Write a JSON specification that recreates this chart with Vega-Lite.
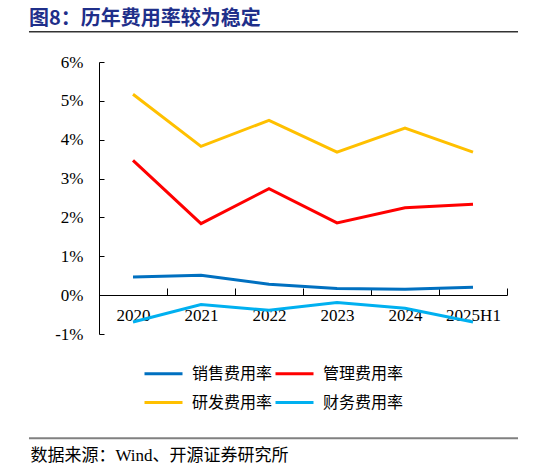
{
  "$schema": "https://vega.github.io/schema/vega-lite/v6.json",
  "width": 408,
  "height": 272,
  "autosize": "none",
  "padding": {"left": 99, "top": 62, "right": 39, "bottom": 133},
  "background": "white",
  "title": {
    "text": "图8：历年费用率较为稳定",
    "anchor": "start",
    "dx": 1,
    "font": "Noto Sans CJK SC",
    "fontSize": 20,
    "fontWeight": "bold",
    "color": "#1F2F8A",
    "offset": 2
  },
  "config": {
    "view": {"stroke": null},
    "font": "Liberation Serif",
    "axis": {
      "ticks": true,
      "tickColor": "black",
      "tickWidth": 1,
      "domainColor": "black",
      "labelOverlap": false,
      "labelColor": "black",
      "labelFont": "Liberation Serif",
      "labelFontSize": 17,
      "grid": false
    },
    "axisY": {"labelFont": "Liberation Serif", "labelFontSize": 17, "tickSize": 5}
  },
  "resolve": {"scale": {"x": "independent", "y": "independent"}},
  "layer": [
    {
      "data": {
        "values": [
          {"period": "2020", "type": "销售费用率", "value": 0.47},
          {"period": "2021", "type": "销售费用率", "value": 0.51},
          {"period": "2022", "type": "销售费用率", "value": 0.28},
          {"period": "2023", "type": "销售费用率", "value": 0.17},
          {"period": "2024", "type": "销售费用率", "value": 0.15},
          {"period": "2025H1", "type": "销售费用率", "value": 0.20},
          {"period": "2020", "type": "管理费用率", "value": 3.47},
          {"period": "2021", "type": "管理费用率", "value": 1.84},
          {"period": "2022", "type": "管理费用率", "value": 2.74},
          {"period": "2023", "type": "管理费用率", "value": 1.86},
          {"period": "2024", "type": "管理费用率", "value": 2.25},
          {"period": "2025H1", "type": "管理费用率", "value": 2.34},
          {"period": "2020", "type": "研发费用率", "value": 5.17},
          {"period": "2021", "type": "研发费用率", "value": 3.83},
          {"period": "2022", "type": "研发费用率", "value": 4.50},
          {"period": "2023", "type": "研发费用率", "value": 3.68},
          {"period": "2024", "type": "研发费用率", "value": 4.30},
          {"period": "2025H1", "type": "研发费用率", "value": 3.68},
          {"period": "2020", "type": "财务费用率", "value": -0.69},
          {"period": "2021", "type": "财务费用率", "value": -0.24},
          {"period": "2022", "type": "财务费用率", "value": -0.39},
          {"period": "2023", "type": "财务费用率", "value": -0.19},
          {"period": "2024", "type": "财务费用率", "value": -0.34},
          {"period": "2025H1", "type": "财务费用率", "value": -0.69}
        ]
      },
      "mark": {"type": "line", "strokeWidth": 3},
      "encoding": {
        "x": {
          "field": "period",
          "type": "ordinal",
          "sort": null,
          "scale": {"type": "band", "paddingInner": 0, "paddingOuter": 0},
          "axis": {
            "orient": "top",
            "offset": -233,
            "title": "数据来源：Wind、开源证券研究所",
            "titleX": -69,
            "titleY": 160,
            "titleAlign": "left",
            "titleBaseline": "middle",
            "titleFont": "Liberation Serif, Noto Sans CJK SC",
            "titleFontSize": 17,
            "titleFontWeight": "normal",
            "titleColor": "black",
            "tickBand": "extent",
            "tickSize": 7,
            "labelAngle": 0,
            "labelBaseline": "top",
            "labelFont": "Liberation Serif",
            "labelFontSize": 17,
            "labelPadding": -19
          }
        },
        "y": {
          "field": "value",
          "type": "quantitative",
          "scale": {"domain": [-1, 6], "nice": false},
          "axis": {
            "orient": "right",
            "offset": -408,
            "title": null,
            "values": [-1, 0, 1, 2, 3, 4, 5, 6],
            "labelExpr": "datum.value + '%'",
            "labelAlign": "right",
            "tickSize": 5,
            "labelPadding": -21,
            "labelFont": "Liberation Serif",
            "labelFontSize": 17
          }
        },
        "color": {
          "field": "type",
          "type": "nominal",
          "scale": {
            "domain": ["销售费用率", "管理费用率", "研发费用率", "财务费用率"],
            "range": ["#0070C0", "#FF0000", "#FFC000", "#00B0F0"]
          },
          "legend": {
            "orient": "none",
            "legendX": 44,
            "legendY": 291,
            "direction": "horizontal",
            "columns": 2,
            "title": null,
            "symbolType": "stroke",
            "symbolSize": 1444,
            "symbolStrokeWidth": 3,
            "labelFont": "Noto Sans CJK SC",
            "labelFontSize": 16,
            "labelColor": "black",
            "labelOffset": 8,
            "columnPadding": -4,
            "rowPadding": -7,
            "padding": 0,
            "labelLimit": 200
          }
        }
      }
    },
    {
      "data": {"values": [{}]},
      "mark": {"type": "rule", "color": "#333333", "strokeWidth": 1.5},
      "encoding": {
        "x": {"datum": -0.1716, "type": "quantitative", "scale": {"domain": [0, 1], "nice": false, "zero": false}, "axis": null},
        "x2": {"datum": 1.027},
        "y": {"datum": 6.78, "type": "quantitative", "scale": {"domain": [-1, 6], "nice": false, "zero": false}, "axis": null}
      }
    },
    {
      "data": {"values": [{}]},
      "mark": {"type": "rule", "color": "#808080", "strokeWidth": 2},
      "encoding": {
        "x": {"datum": -0.1716, "type": "quantitative", "scale": {"domain": [0, 1], "nice": false, "zero": false}, "axis": null},
        "x2": {"datum": 1.027},
        "y": {"datum": -3.68, "type": "quantitative", "scale": {"domain": [-1, 6], "nice": false, "zero": false}, "axis": null}
      }
    }
  ]
}
